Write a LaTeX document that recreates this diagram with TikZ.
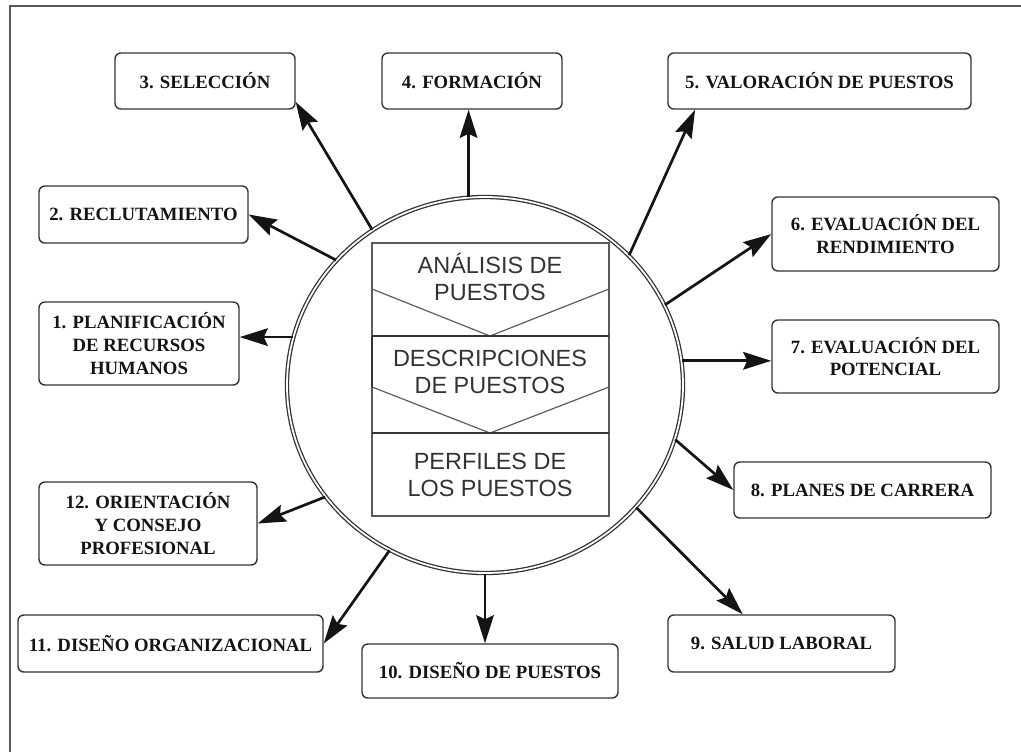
\documentclass[tikz,border=0pt]{standalone}
\usepackage{fontspec}
\setmainfont{Liberation Serif}
\setsansfont{Liberation Sans}
\usepackage{xcolor}
\usepackage{tikz}
\usetikzlibrary{calc,arrows.meta,positioning,shapes.geometric}
\definecolor{inkx}{HTML}{141414}
\definecolor{edgex}{HTML}{333333}
\definecolor{greyx}{HTML}{5A5A5A}
\tikzset{
  ar/.style={-{Stealth[length=24pt,width=15pt,inset=3.5pt]},line width=2.3pt,inkx},
  box/.style={draw=edgex,line width=1.2pt,rounded corners=5pt,fill=white,align=center,inner sep=0pt,text=inkx,font=\bfseries\fontsize{16}{19.5}\selectfont},
  ring/.style={ellipse,draw=edgex,line width=1.1pt,double=white,double distance=1.5pt,minimum width=11.88cm,minimum height=11.28cm,inner sep=0pt},
  marco/.style={line width=1.6pt,greyx},
  stk/.style={line width=1pt,greyx},
  stkb/.style={line width=1.7pt,edgex},
  lbl/.style={font=\sffamily\fontsize{20}{23}\selectfont,text=edgex,align=center}
}

\begin{document}
\begin{tikzpicture}[x=0.03cm,y=-0.03cm]
\useasboundingbox (0,0) rectangle (1021,751);
\draw[marco] (10,900) -- (10,6) -- (1200,6);
\node[ring] (circ) at (485,385) {};
\draw[stk] (372,243) rectangle (609,516);
\draw[stk] (372,289) -- (490,336) -- (609,289);
\draw[stk] (372,387) -- (490,433) -- (609,387);
\draw[stkb] (372,336) -- (609,336);
\draw[stkb] (372,433) -- (609,433);
\draw[stkb] (372,336) -- (372,387);
\node[lbl] (ana) at (490,277) {ANÁLISIS DE\\PUESTOS};
\node[lbl] (des) at (490,372) {DESCRIPCIONES\\DE PUESTOS};
\node[lbl] (per) at (490,475) {PERFILES DE\\LOS PUESTOS};
\node[box,minimum width=6.00cm,minimum height=2.49cm] (plan) at (139,343.5) {1. PLANIFICACIÓN\\DE RECURSOS\\HUMANOS};
\node[box,minimum width=6.27cm,minimum height=1.71cm] (rec) at (143.5,214.5) {2. RECLUTAMIENTO};
\node[box,minimum width=5.40cm,minimum height=1.68cm] (sel) at (205,81) {3. SELECCIÓN};
\node[box,minimum width=5.40cm,minimum height=1.68cm] (form) at (472,81) {4. FORMACIÓN};
\node[box,minimum width=9.09cm,minimum height=1.68cm] (val) at (819.5,81) {5. VALORACIÓN DE PUESTOS};
\node[box,minimum width=6.81cm,minimum height=2.22cm] (ev1) at (885.5,234) {6. EVALUACIÓN DEL\\RENDIMIENTO};
\node[box,minimum width=6.81cm,minimum height=2.19cm] (ev2) at (885.5,356.5) {7. EVALUACIÓN DEL\\POTENCIAL};
\node[box,minimum width=7.71cm,minimum height=1.68cm] (car) at (862.5,490) {8. PLANES DE CARRERA};
\node[box,minimum width=6.81cm,minimum height=1.71cm] (sal) at (781.5,643.5) {9. SALUD LABORAL};
\node[box,minimum width=7.68cm,minimum height=1.62cm] (dp) at (490,671) {10. DISEÑO DE PUESTOS};
\node[box,minimum width=9.15cm,minimum height=1.71cm] (org) at (170.5,643.5) {11. DISEÑO ORGANIZACIONAL};
\node[box,minimum width=6.54cm,minimum height=2.49cm] (ori) at (148,523.5) {12. ORIENTACIÓN\\Y CONSEJO\\PROFESIONAL};
\draw[ar] (circ.166.3) -- (circ.166.3 -| plan.east);
\draw[ar] (circ.140.6) -- (rec.east);
\draw[ar] (circ.126.6) -- (sel.-13.4);
\draw[ar] (circ.95.5) -- (circ.95.5 |- form.south);
\draw[ar] (circ.42.3) -- (val.193.7);
\draw[ar] (circ.24.5) -- (ev1.west);
\draw[ar] (circ.7.7) -- (circ.7.7 -| ev2.west);
\draw[ar] (circ.-16.8) -- (car.west);
\draw[ar] (circ.-39.2) -- (sal.143.5);
\draw[ar] (circ.-90) -- (circ.-90 |- dp.north);
\draw[ar] (circ.240.1) -- (org.east);
\draw[ar] (circ.215.5) -- (ori.east);
\end{tikzpicture}
\end{document}
